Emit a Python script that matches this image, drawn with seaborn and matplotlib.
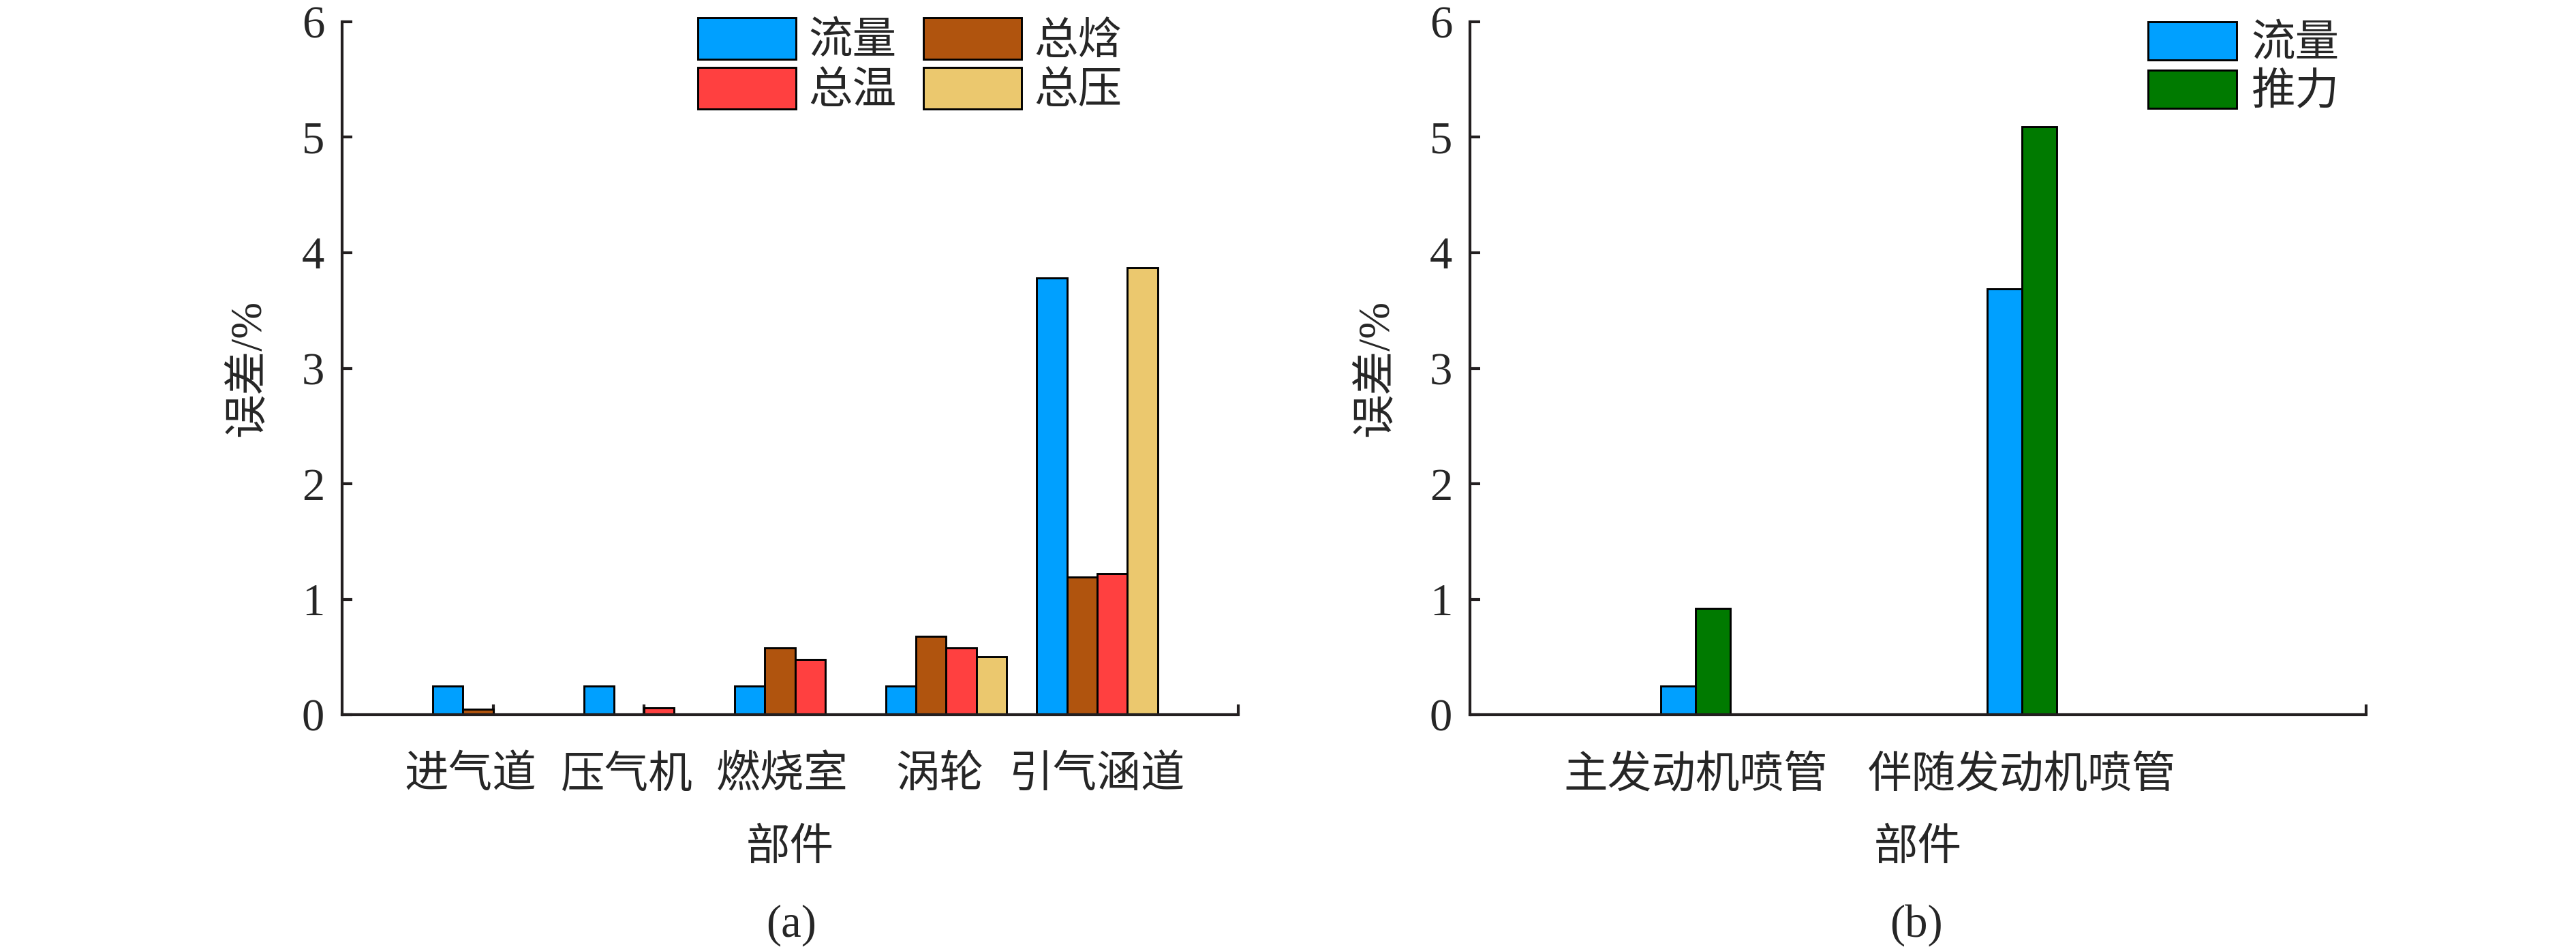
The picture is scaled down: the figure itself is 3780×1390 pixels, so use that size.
import numpy as np
import pandas as pd
import matplotlib
matplotlib.use('Agg')
import matplotlib.pyplot as plt
import matplotlib.transforms as mtransforms
import seaborn as sns

# (a) 各部件误差
parts_a = ['进气道', '压气机', '燃烧室', '涡轮', '引气涵道']
series_a = ['流量', '总焓', '总温', '总压']
flow_a = [0.25, 0.25, 0.25, 0.25, 3.78]
enthalpy_a = [0.05, 0.0, 0.58, 0.68, 1.19]
temp_a = [0.0, 0.06, 0.48, 0.58, 1.22]
press_a = [0.0, 0.0, 0.0, 0.50, 3.87]
colors_a = ['#00A0FF', '#B0540E', '#FF4040', '#EBC86E']

# (b) 喷管误差
parts_b = ['主发动机喷管', '伴随发动机喷管']
series_b = ['流量', '推力']
flow_b = [0.25, 3.69]
thrust_b = [0.92, 5.09]
colors_b = ['#00A0FF', '#007A00']

yticks = [0, 1, 2, 3, 4, 5, 6]


def long_table(parts, series, values):
    rows = []
    for s, vals in zip(series, values):
        for p, v in zip(parts, vals):
            rows.append({'部件': p, '类型': s, '误差': v})
    return pd.DataFrame(rows)


df_a = long_table(parts_a, series_a, [flow_a, enthalpy_a, temp_a, press_a])
df_b = long_table(parts_b, series_b, [flow_b, thrust_b])

sns.set_style('ticks')
plt.rcParams['font.family'] = ['Liberation Serif', 'Noto Sans CJK SC']
plt.rcParams['axes.unicode_minus'] = False

FS = 15.5
DPI = 300
axis_color = '#231F20'

fig = plt.figure(figsize=(3780 / DPI, 1390 / DPI))
ax_a = fig.add_axes([0.1328, 0.2453, 0.3479, 0.7317])
ax_b = fig.add_axes([0.5706, 0.2453, 0.3479, 0.7317])

sns.barplot(data=df_a, x='部件', y='误差', hue='类型', order=parts_a,
            hue_order=series_a, palette=colors_a, width=0.8, gap=0,
            saturation=1, edgecolor='black', linewidth=0.7, ax=ax_a)
sns.barplot(data=df_b, x='部件', y='误差', hue='类型', order=parts_b,
            hue_order=series_b, palette=colors_b, width=0.213, gap=0,
            saturation=1, edgecolor='black', linewidth=0.7, ax=ax_b)


def style_axes(ax, xlim):
    ax.set_xlim(*xlim)
    ax.set_ylim(0, 6)
    ax.set_yticks(yticks)
    ax.set_yticklabels([str(t) for t in yticks])
    ax.set_xticks([xlim[1]], minor=True)
    sns.despine(ax=ax)
    for side in ['left', 'bottom']:
        ax.spines[side].set_linewidth(1.0)
        ax.spines[side].set_color(axis_color)
    ax.tick_params(axis='both', which='both', direction='in', length=3.7,
                   width=1.0, color=axis_color, labelsize=16)
    ax.tick_params(axis='y', pad=6.2)
    ax.tick_params(axis='x', pad=14.5, labelsize=FS)
    ax.set_xlabel('部件', fontsize=FS, va='center')
    ax.xaxis.set_label_coords(0.5, -0.194)
    ax.set_ylabel('误差/%', fontsize=FS, va='center')
    ax.yaxis.set_label_coords(-0.104, 0.5)


style_axes(ax_a, (-1.0, 4.935))
style_axes(ax_b, (-0.691, 2.054))

# 左图类别标签在原图中略向左偏
label_shift_px = [-33, -25, -19, -9, 0]
for lbl, dx in zip(ax_a.get_xticklabels(), label_shift_px):
    lbl.set_transform(lbl.get_transform() +
                      mtransforms.ScaledTranslation(dx / DPI, 0, fig.dpi_scale_trans))


def rebuild_legend(ax, order, anchor, hlen, hheight, tpad, ncol):
    old = ax.get_legend()
    handles = list(old.legend_handles)
    labels = [t.get_text() for t in old.get_texts()]
    old.remove()
    for h in handles:
        h.set_edgecolor('black')
        h.set_linewidth(0.7)
    handles = [handles[i] for i in order]
    labels = [labels[i] for i in order]
    ax.legend(handles, labels, loc='upper left', bbox_to_anchor=anchor,
              ncol=ncol, frameon=False, fontsize=FS, borderpad=0,
              borderaxespad=0, handlelength=hlen, handleheight=hheight,
              handletextpad=tpad, labelspacing=0.1, columnspacing=0.62)


rebuild_legend(ax_a, [0, 2, 1, 3], (0.397, 1.006), 2.23, 1.08, 0.28, 2)
rebuild_legend(ax_b, [0, 1], (0.757, 1.0), 2.0, 0.96, 0.34, 1)

fig.text(0.3071, 0.023, '(a)', ha='center', va='center', fontsize=16)
fig.text(0.7439, 0.023, '(b)', ha='center', va='center', fontsize=16)

fig.savefig('out.png', dpi=DPI, facecolor='white')
